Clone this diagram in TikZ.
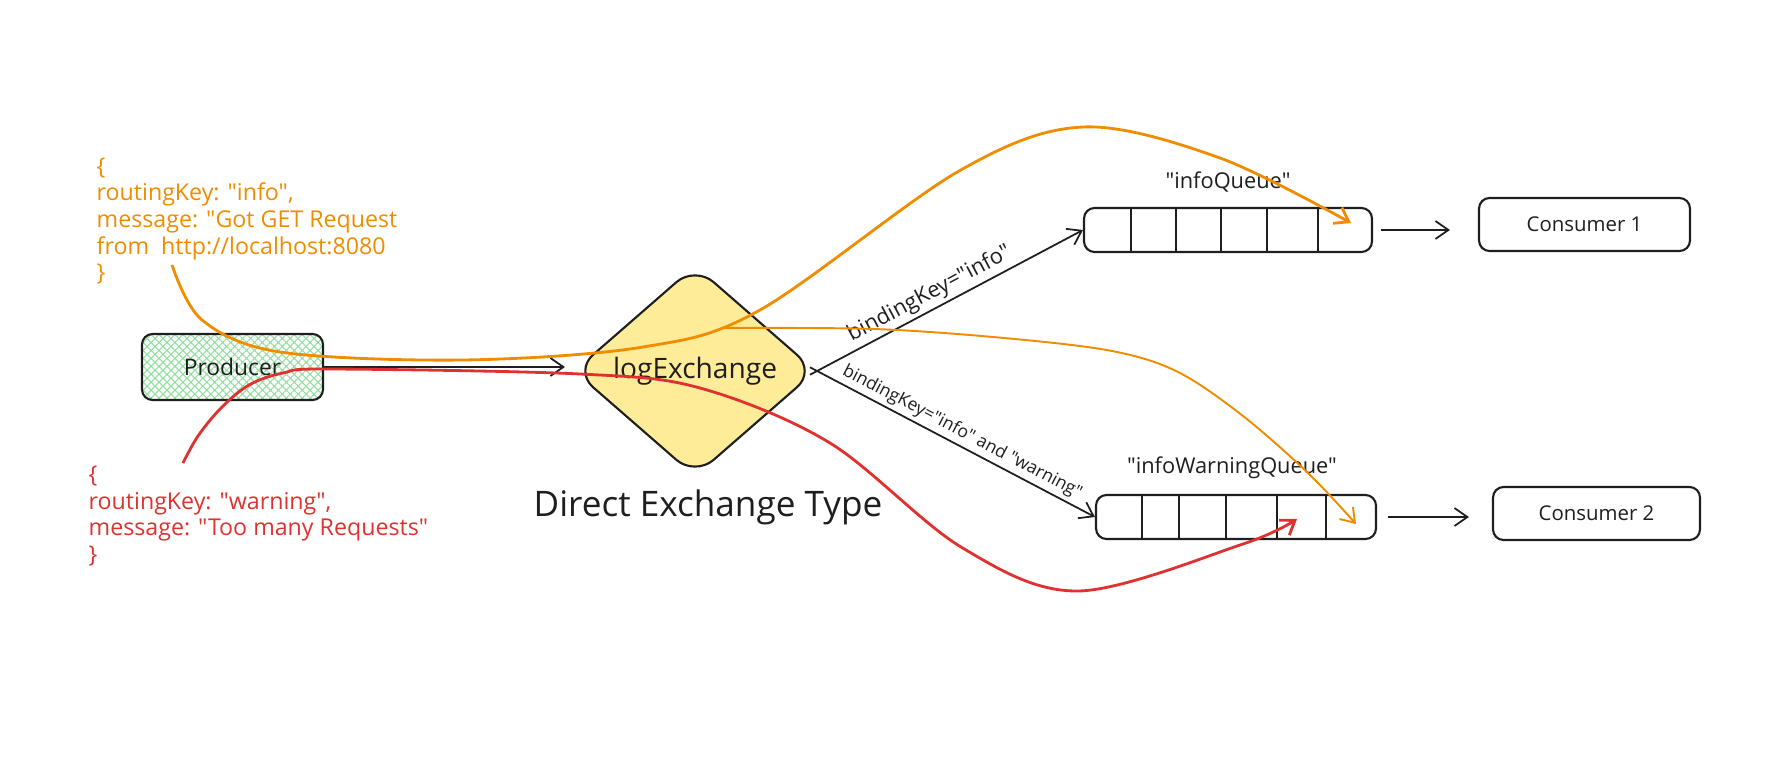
\documentclass[tikz,border=0pt]{standalone}
\usepackage{fontspec}
\setmainfont{Open Sans}[Ligatures=TeXOff]
\usetikzlibrary{shapes.geometric,arrows.meta,patterns.meta}

\definecolor{ink}{HTML}{1E1E1E}
\definecolor{msgorange}{HTML}{F08C00}
\definecolor{msgred}{HTML}{E03131}
\definecolor{exyellow}{HTML}{FFEC99}
\definecolor{prodgreen}{HTML}{8FE09C}

\tikzset{
  box/.style={draw=ink,line width=0.6pt,rounded corners=3pt,text=ink,inner sep=0pt,font=\fontsize{5.8}{7}\selectfont},
  queue/.style={box,minimum height=0.44cm},
  cell/.style={draw=ink,line width=0.5pt},
  link/.style={draw=ink,line width=0.5pt,->},
  infomsg/.style={draw=msgorange,line width=0.8pt,->},
  warnmsg/.style={draw=msgred,line width=0.8pt,->},
  msgtext/.style={anchor=west,align=left,inner sep=0pt,font=\fontsize{6.6}{7.6}\selectfont},
  qtitle/.style={text=ink,inner sep=0pt,font=\fontsize{6.2}{7}\selectfont},
  bindtext/.style={text=ink,sloped,above,inner sep=1pt}
}

\begin{document}
\begin{tikzpicture}[>={Straight Barb[length=1.3mm,width=1.8mm]}]
\useasboundingbox (0,0) rectangle (17.76,7.56);

% messages sent by the producer
\node[msgtext,text=msgorange] (infotxt) at (0.96,5.35) {\{\\routingKey: "info",\\message: "Got GET Request\\from\ \ http://localhost:8080\\\}};
\node[msgtext,text=msgred] (warntxt) at (0.88,2.40) {\{\\routingKey: "warning",\\message: "Too many Requests"\\\}};

% producer and exchange
\node[box,minimum width=1.81cm,minimum height=0.66cm,pattern={Hatch[angle=45,distance=1.6pt,line width=0.3pt]},pattern color=prodgreen,font=\fontsize{6.5}{7}\selectfont] (prod) at (2.325,3.89) {Producer};
\node[diamond,draw=ink,line width=0.6pt,fill=exyellow,rounded corners=7pt,minimum width=2.42cm,minimum height=2.11cm,inner sep=0pt,text=ink,font=\fontsize{8}{9}\selectfont] (ex) at (6.95,3.85) {logExchange};
\node[text=ink,font=\fontsize{10}{12}\selectfont] (title) at (7.08,2.49) {Direct Exchange Type};

% queues
\node[queue,minimum width=2.88cm] (iq) at (12.28,5.26) {};
\node[queue,minimum width=2.80cm] (iwq) at (12.36,2.39) {};
\node[qtitle] (iqtitle) at (12.28,5.74) {"infoQueue"};
\node[qtitle] (iwqtitle) at (12.32,2.88) {"infoWarningQueue"};

\draw[cell] (11.31,5.04) -- (11.31,5.48);
\draw[cell] (11.76,5.04) -- (11.76,5.48);
\draw[cell] (12.21,5.04) -- (12.21,5.48);
\draw[cell] (12.67,5.04) -- (12.67,5.48);
\draw[cell] (13.18,5.04) -- (13.18,5.48);

\draw[cell] (11.42,2.17) -- (11.42,2.61);
\draw[cell] (11.79,2.17) -- (11.79,2.61);
\draw[cell] (12.26,2.17) -- (12.26,2.61);
\draw[cell] (12.77,2.17) -- (12.77,2.61);
\draw[cell] (13.26,2.17) -- (13.26,2.61);

% consumers
\node[box,minimum width=2.11cm,minimum height=0.53cm] (c1) at (15.845,5.315) {Consumer 1};
\node[box,minimum width=2.07cm,minimum height=0.53cm] (c2) at (15.965,2.425) {Consumer 2};

% bindings
\draw[link,shorten >=0.08cm] (prod.east) -- (prod.east -| ex.west);
\draw[link,shorten <=-0.08cm] (ex.east) -- (iq.west)
  node[bindtext,pos=0.45,font=\fontsize{6.2}{7}\selectfont] {bindingKey="info"};
\draw[link,shorten <=-0.08cm] (ex.east) -- (iwq.west)
  node[bindtext,pos=0.5,font=\fontsize{5}{6}\selectfont] {bindingKey="info" and "warning"};
\draw[link,shorten <=0.08cm,shorten >=0.28cm] (iq.east) -- (iq.east -| c1.west);
\draw[link,shorten <=0.11cm,shorten >=0.23cm] (iwq.east) -- (iwq.east -| c2.west);

% message routes
\coordinate (okey) at (1.72,4.91);
\coordinate (wkey) at (1.83,2.93);
\coordinate (fork) at (7.23,4.28);
\coordinate (iqin) at (13.51,5.33);
\coordinate (iwqin) at (13.56,2.32);
\coordinate (iwqred) at (12.97,2.37);

\draw[infomsg] plot[smooth,tension=0.55] coordinates {(okey) (2.02,4.36) (2.80,4.04) (4.63,3.96) (6.43,4.09) (7.60,4.46) (9.59,5.85) (10.83,6.29) (12.20,5.98) (iqin)};
\draw[infomsg,line width=0.55pt] plot[smooth,tension=0.55] coordinates {(fork) (8.74,4.27) (10.04,4.18) (11.12,4.05) (11.78,3.84) (12.43,3.40) (13.08,2.83) (iwqin)};
\draw[warnmsg] plot[smooth,tension=0.55] coordinates {(wkey) (1.98,3.20) (2.21,3.48) (2.49,3.71) (2.83,3.83) (3.30,3.87) (5.80,3.82) (7.00,3.68) (8.30,3.13) (9.61,2.09) (10.78,1.65) (12.43,2.12) (iwqred)};
\end{tikzpicture}
\end{document}
